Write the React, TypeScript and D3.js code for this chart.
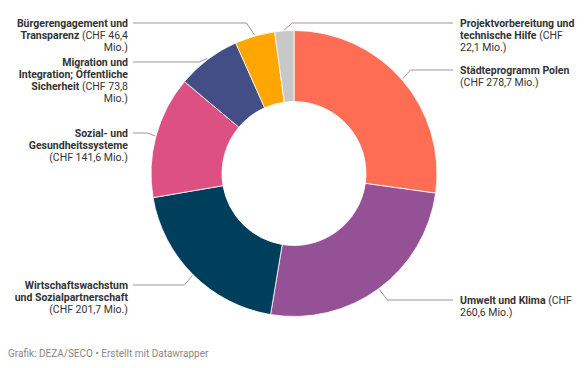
import * as d3 from 'd3';

const CATEGORIES = [
  'Städteprogramm Polen',
  'Umwelt und Klima',
  'Wirtschaftswachstum und Sozialpartnerschaft',
  'Sozial- und Gesundheitssysteme',
  'Migration und Integration; Öffentliche Sicherheit',
  'Bürgerengagement und Transparenz',
  'Projektvorbereitung und technische Hilfe',
];
const VALUES = [278.7, 260.6, 201.7, 141.6, 73.8, 46.4, 22.1];
const COLORS = ['#ff6e54', '#955196', '#003f5c', '#dd5182', '#444e86', '#ffa600', '#c8c8c8'];

// label wrapping as in the original: [text, bold]
const LABEL_LINES: [string, boolean][][][] = [
  [[['Städteprogramm Polen', true]], [['(CHF 278,7 Mio.)', false]]],
  [[['Umwelt und Klima', true], [' (CHF', false]], [['260,6 Mio.)', false]]],
  [[['Wirtschaftswachstum', true]], [['und Sozialpartnerschaft', true]], [['(CHF 201,7 Mio.)', false]]],
  [[['Sozial- und', true]], [['Gesundheitssysteme', true]], [['(CHF 141,6 Mio.)', false]]],
  [[['Migration und', true]], [['Integration; Öffentliche', true]], [['Sicherheit', true], [' (CHF 73,8', false]], [['Mio.)', false]]],
  [[['Bürgerengagement und', true]], [['Transparenz', true], [' (CHF 46,4', false]], [['Mio.)', false]]],
  [[['Projektvorbereitung und', true]], [['technische Hilfe', true], [' (CHF', false]], [['22,1 Mio.)', false]]],
];
const LABEL_SIDE = [1, 1, -1, -1, -1, -1, 1];
const LABEL_Y = [70, 300, 285, 133, 62, 23, 23];

export default function App() {
  const W = 588, H = 368;
  const cx = 294, cy = 173.5, R = 143, r = 72;
  const pie = d3.pie<number>().sort(null).value((d) => d)(VALUES);
  const arc = d3.arc<d3.PieArcDatum<number>>().innerRadius(r).outerRadius(R);
  const lineH = 12;

  return (
    <svg width={W} height={H} style={{ position: 'absolute', left: 0, top: 0, fontFamily: 'Roboto, sans-serif' }}>
      <rect width={W} height={H} fill="#fff" />
      <g transform={`translate(${cx},${cy})`}>
        {pie.map((p, i) => (
          <path key={i} d={arc(p) || ''} fill={COLORS[i]} stroke="#fff" strokeWidth={0.8} />
        ))}
      </g>
      {pie.map((p, i) => {
        const a = (p.startAngle + p.endAngle) / 2;
        const sx = cx + (R + 1) * Math.sin(a);
        const sy = cy - (R + 1) * Math.cos(a);
        const side = LABEL_SIDE[i];
        const ly = LABEL_Y[i];
        const ex = sx + side * 8;
        const endX = side > 0 ? 453 : 133;
        const tx = side > 0 ? 460 : 128;
        return (
          <g key={i}>
            <polyline points={`${sx},${sy} ${ex},${ly} ${endX},${ly}`} fill="none" stroke="#999" strokeWidth={1} />
            <text x={tx} y={ly + 3.8} fontSize={10.5} fill="#333" textAnchor={side > 0 ? 'start' : 'end'}>
              {LABEL_LINES[i].map((line, j) => (
                <tspan key={j} x={tx} dy={j === 0 ? 0 : lineH}>
                  {line.map(([t, b], k) => (
                    <tspan key={k} fontWeight={b ? 700 : 400}>{t}</tspan>
                  ))}
                </tspan>
              ))}
            </text>
          </g>
        );
      })}
      <text x={8} y={356.5} fontSize={10} fill="#888">Grafik: DEZA/SECO • Erstellt mit Datawrapper</text>
    </svg>
  );
}
